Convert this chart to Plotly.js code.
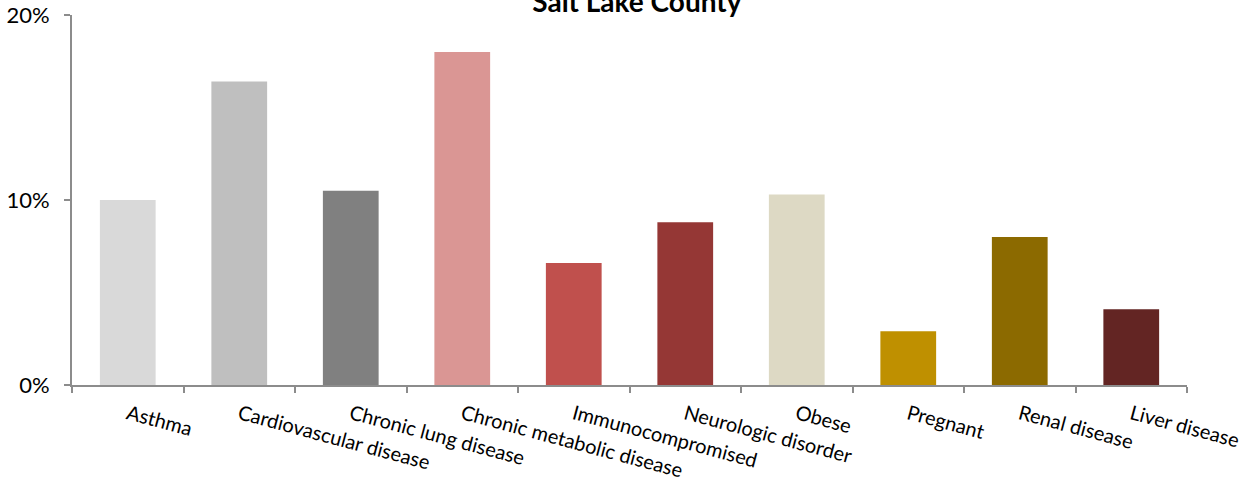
<!DOCTYPE html>
<html><head><meta charset="utf-8">
<script src="https://cdn.plot.ly/plotly-3.0.1.min.js"></script>
<style>html,body{margin:0;padding:0;background:#fff}#chart{width:1243px;height:480px}</style>
</head><body><div id="chart"></div>
<script>
const categories = ["Asthma","Cardiovascular disease","Chronic lung disease","Chronic metabolic disease","Immunocompromised","Neurologic disorder","Obese","Pregnant","Renal disease","Liver disease"];
const values = [0.100, 0.164, 0.105, 0.180, 0.066, 0.088, 0.103, 0.029, 0.080, 0.041];
const barColors = ["#D9D9D9","#BFBFBF","#808080","#DA9694","#C0504D","#953735","#DDD9C4","#BF9000","#8C6A00","#632523"];
const yTickVals = [0, 0.1, 0.2];
const yTickText = ["0%","10%","20%"];

const font = "Lato, 'Open Sans', sans-serif";
Plotly.newPlot('chart', [{
  type: 'bar', x: categories, y: values,
  marker: {color: barColors, line: {width: 0}},
  hoverinfo: 'none'
}], {
  width: 1243, height: 480,
  margin: {l: 72, r: 56, t: 15, b: 95},
  paper_bgcolor: '#fff', plot_bgcolor: '#fff',
  bargap: 0.5,
  showlegend: false,
  title: {text: '<b>Salt Lake County</b>', x: 0.5066, xref: 'paper', y: 0.995, yref: 'container', yanchor: 'middle', font: {family: font, size: 28, color: '#000'}},
  xaxis: {
    type: 'category', tickangle: 15, tickson: 'boundaries',
    ticks: 'outside', ticklen: 6, tickwidth: 2, tickcolor: '#8c8c8c',
    showline: true, linecolor: '#8c8c8c', linewidth: 2,
    showgrid: false, zeroline: false, ticklabelstandoff: 8,
    tickfont: {family: font, size: 20, color: '#000'}
  },
  yaxis: {
    range: [0, 0.2], tickvals: yTickVals, ticktext: yTickText,
    ticks: 'outside', ticklen: 6, tickwidth: 2, tickcolor: '#8c8c8c',
    showline: true, linecolor: '#8c8c8c', linewidth: 2,
    showgrid: false, zeroline: false, ticklabelstandoff: 10,
    tickfont: {family: font, size: 22, color: '#000'}
  }
}, {staticPlot: true});
</script></body></html>
